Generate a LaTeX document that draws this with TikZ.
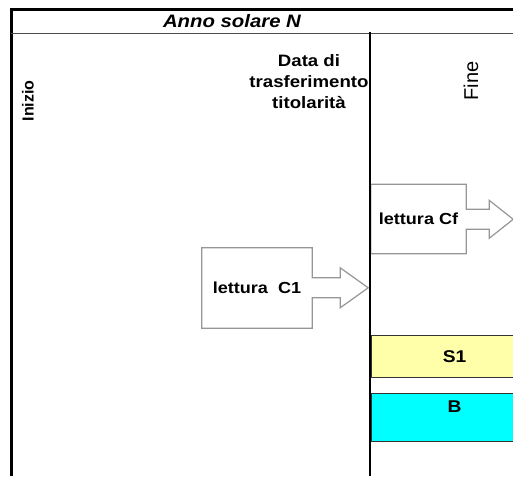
\documentclass[tikz,border=0pt]{standalone}
\usepackage{fontspec}
\setmainfont{Liberation Sans}[FakeStretch=1.13]
\newfontfamily\rotfont{Liberation Sans}
\usetikzlibrary{positioning, calc}
\definecolor{boxgray}{RGB}{150,150,150}
\definecolor{paleyellow}{RGB}{255,255,170}
\definecolor{brightcyan}{RGB}{0,255,255}

\begin{document}
\begin{tikzpicture}[x=1pt, y=-1pt,
    lettbox/.style={inner sep=0pt, font=\fontsize{16}{19}\selectfont\bfseries},
    outl/.style={draw=boxgray, line width=1.2pt, fill=white},
    band/.style={draw=black!80, line width=1.3pt, inner sep=0pt, minimum width=166pt, anchor=north west},
    bandtext/.style={inner sep=0pt, font=\fontsize{17}{19}\selectfont\bfseries}]
  \useasboundingbox (0,0) rectangle (513,476);
  % frame
  \draw[line width=3pt] (11,476) -- (11,9.5) -- (513,9.5);
  \draw[black!70, line width=1pt] (11,33.5) -- (513,33.5);
  \draw[line width=1.4pt] (370,32) -- (370,476);
  % headings
  \node[font=\fontsize{18}{20}\selectfont\bfseries\itshape] (anno) at (232,21) {Anno solare N};
  \node[align=center, font=\fontsize{16.5}{21}\selectfont\bfseries] (data) at (309,82) {Data di\\trasferimento\\titolarità};
  \node[rotate=90, font=\rotfont\fontsize{16}{18}\selectfont\bfseries] (inizio) at (28,101) {Inizio};
  \node[rotate=90, font=\rotfont\fontsize{20}{22}\selectfont] (fine) at (471,81) {Fine};
  % lettura C1
  \node[lettbox, minimum width=110pt, minimum height=80pt] (c1) at (257,288) {};
  \draw[outl] (c1.north west) -- (c1.north east) -- ++(0,30) -- ++(28,0) -- ++(0,-10)
    -- ++(28,20) -- ++(-28,20) -- ++(0,-10) -- ++(-28,0) -- (c1.south east) -- (c1.south west) -- cycle;
  \node[lettbox] at (c1) {lettura\ \ C1};
  % lettura Cf
  \node[lettbox, minimum width=95pt, minimum height=69pt] (cf) at (418.5,219) {};
  \draw[outl] (cf.north west) -- (cf.north east) -- ++(0,25) -- ++(23,0) -- ++(0,-9)
    -- ++(24,19) -- ++(-24,19) -- ++(0,-9) -- ++(-23,0) -- (cf.south east) -- (cf.south west) -- cycle;
  \node[lettbox] at (cf) {lettura Cf};
  \draw[line width=1.4pt] (370,150) -- (370,280);
  % bands
  \node[band, fill=paleyellow, minimum height=42pt] (s1) at (371,334.5) {};
  \node[bandtext] at (s1) {S1};
  \node[band, fill=brightcyan, minimum height=48pt] (b) at (371,392.5) {};
  \node[bandtext, below=8pt of b.north] (blab) {B};
\end{tikzpicture}
\end{document}
